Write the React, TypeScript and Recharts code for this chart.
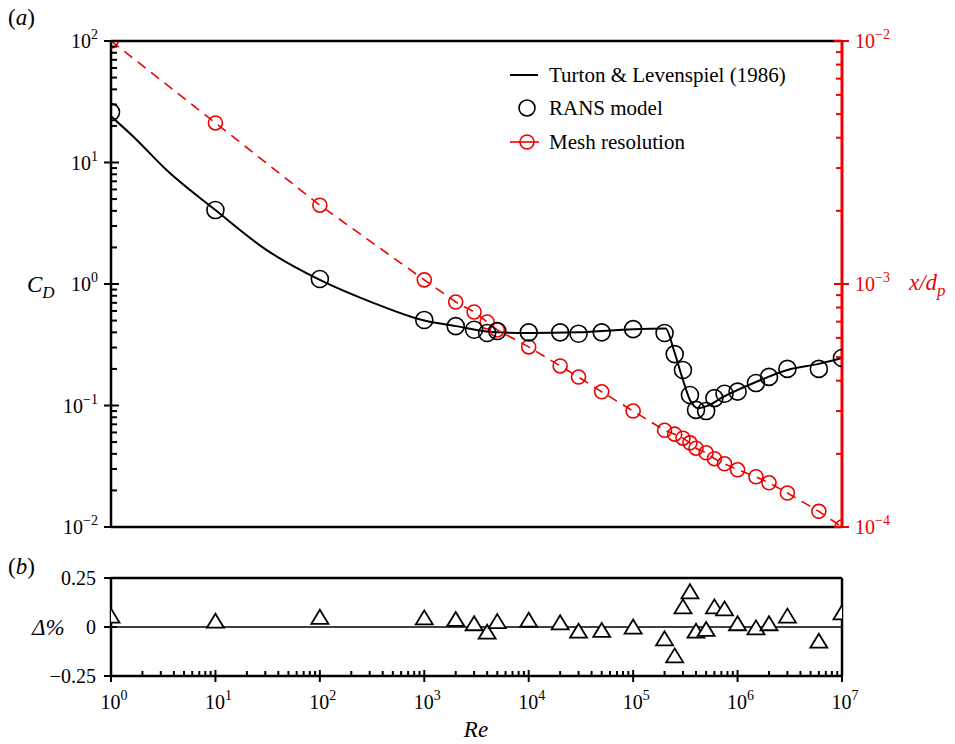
import {
  ComposedChart,
  Line,
  Scatter,
  XAxis,
  YAxis,
  ReferenceLine,
} from "recharts";

// Re values where the RANS runs / mesh resolution / deviations are plotted
const RE = [
  1, 10, 100, 1e3, 2e3, 3e3, 4e3, 5e3, 1e4, 2e4, 3e4, 5e4, 1e5, 2e5, 2.5e5,
  3e5, 3.5e5, 4e5, 5e5, 6e5, 7.5e5, 1e6, 1.5e6, 2e6, 3e6, 6e6, 1e7,
];
const RANS_CD = [
  26, 4.06, 1.1, 0.506, 0.45, 0.42, 0.395, 0.41, 0.4, 0.4, 0.39, 0.4, 0.425,
  0.395, 0.265, 0.196, 0.122, 0.092, 0.09, 0.115, 0.125, 0.13, 0.153, 0.172,
  0.2, 0.2, 0.246,
];
const MESH_XDP = [
  0.01, 0.0046, 0.00211, 0.00104, 0.000843, 0.000767, 0.000698, 0.000647,
  0.000551, 0.00046, 0.000414, 0.00036, 0.0003, 0.00025, 0.000241, 0.000232,
  0.000222, 0.000211, 0.000202, 0.000191, 0.000182, 0.000172, 0.000161,
  0.000152, 0.000138, 0.000116, 0.0001,
];
const DELTA = [
  0.053, 0.027, 0.047, 0.044, 0.036, 0.014, -0.029, 0.025, 0.032, 0.019,
  -0.024, -0.02, -0.003, -0.063, -0.15, 0.1, 0.177, -0.024, -0.015, 0.1, 0.09,
  0.014, -0.007, 0.014, 0.053, -0.075, 0.07,
];

// Turton & Levenspiel (1986) curve
const CURVE_RE = [
  1, 1.64, 3.4, 10, 31, 100, 324, 1e3, 2e3, 5e3, 1e4, 3e4, 1e5, 2.05e5,
  2.45e5, 3e5, 3.5e5, 4.2e5, 5.1e5, 7.2e5, 1.5e6, 3e6, 6e6, 1e7,
];
const CURVE_CD = [
  24, 16.3, 8.67, 4.06, 1.9, 1.08, 0.7, 0.5, 0.45, 0.4, 0.395, 0.4, 0.425,
  0.43, 0.286, 0.162, 0.111, 0.095, 0.099, 0.117, 0.156, 0.196, 0.22, 0.246,
];

const X_MAJOR = [1, 10, 100, 1e3, 1e4, 1e5, 1e6, 1e7];
const LEFT_MAJOR = [0.01, 0.1, 1, 10, 100];
const RIGHT_MAJOR = [1e-4, 1e-3, 1e-2];
const DELTA_TICKS = [-0.25, 0, 0.25];
const DELTA_LABELS = ["\u22120.25", "0", "0.25"];

const RED = "#ee0000";
const FONT = "'Liberation Serif', 'Times New Roman', serif";

function withMinors(majors: number[]) {
  const out: number[] = [];
  majors.forEach((m, i) => {
    out.push(m);
    if (i < majors.length - 1) for (let k = 2; k <= 9; k++) out.push(m * k);
  });
  return out;
}

const ransData = RE.map((re, i) => ({ re, y: RANS_CD[i] }));
const meshData = RE.map((re, i) => ({ re, y: MESH_XDP[i] }));
const deltaData = RE.map((re, i) => ({ re, y: DELTA[i] }));
const curveData = CURVE_RE.map((re, i) => ({ re, y: CURVE_CD[i] }));

function isMajor(v: number) {
  const e = Math.round(Math.log10(v));
  return Math.abs(v - Math.pow(10, e)) < 1e-6 * v;
}

function expLabel(v: number) {
  const e = Math.round(Math.log10(v));
  return e < 0 ? `\u2212${-e}` : `${e}`;
}

function LeftLogTick(props: any) {
  const { x, y, payload } = props;
  const v = payload.value;
  if (!isMajor(v)) {
    return <line x1={x} x2={x + 6} y1={y} y2={y} stroke="#000" strokeWidth={2} />;
  }
  return (
    <g>
      <line x1={x - 7} x2={x + 8} y1={y} y2={y} stroke="#000" strokeWidth={2} />
      <text x={x - 13} y={y + 7} textAnchor="end" fontSize={20} fontFamily={FONT} fill="#000">
        10
        <tspan dy={-9} fontSize={14}>
          {expLabel(v)}
        </tspan>
      </text>
    </g>
  );
}

function RightLogTick(props: any) {
  const { x, y, payload } = props;
  const v = payload.value;
  if (!isMajor(v)) {
    return <line x1={x - 6} x2={x} y1={y} y2={y} stroke={RED} strokeWidth={2} />;
  }
  return (
    <g>
      <line x1={x - 8} x2={x + 7} y1={y} y2={y} stroke={RED} strokeWidth={2} />
      <text x={x + 13} y={y + 7} textAnchor="start" fontSize={20} fontFamily={FONT} fill={RED}>
        10
        <tspan dy={-9} fontSize={14}>
          {expLabel(v)}
        </tspan>
      </text>
    </g>
  );
}

function BottomLogTick(props: any) {
  const { x, y, payload } = props;
  const v = payload.value;
  if (!isMajor(v)) {
    return <line x1={x} x2={x} y1={y} y2={y - 5} stroke="#000" strokeWidth={2} />;
  }
  return (
    <g>
      <line x1={x} x2={x} y1={y - 6} y2={y + 6} stroke="#000" strokeWidth={2} />
      <text x={x + 3} y={y + 33} textAnchor="middle" fontSize={20} fontFamily={FONT} fill="#000">
        10
        <tspan dy={-9} fontSize={14}>
          {expLabel(v)}
        </tspan>
      </text>
    </g>
  );
}

function DeltaTick(props: any) {
  const { x, y, payload, index } = props;
  return (
    <g>
      <line x1={x - 7} x2={x + 6} y1={y} y2={y} stroke="#000" strokeWidth={2} />
      <text x={x - 15} y={y + 7} textAnchor="end" fontSize={20} fontFamily={FONT} fill="#000">
        {DELTA_LABELS[index] ?? String(payload.value)}
      </text>
    </g>
  );
}

function OpenCircle(props: any) {
  const { cx, cy } = props;
  if (cx == null || cy == null) return null;
  return <circle cx={cx} cy={cy} r={8.5} fill="none" stroke="#000" strokeWidth={1.6} />;
}

function RedDot(props: any) {
  const { cx, cy, index } = props;
  if (cx == null || cy == null) return <g key={`md-${index}`} />;
  return (
    <circle key={`md-${index}`} cx={cx} cy={cy} r={7} fill="none" stroke={RED} strokeWidth={1.6} />
  );
}

function Triangle(props: any) {
  const { cx, cy } = props;
  if (cx == null || cy == null) return null;
  const d = `M${cx},${cy - 8} L${cx + 8.5},${cy + 6} L${cx - 8.5},${cy + 6} Z`;
  return <path d={d} fill="#fff" stroke="#000" strokeWidth={1.8} strokeLinejoin="miter" />;
}

export default function App() {
  return (
    <div
      style={{
        position: "absolute",
        left: 0,
        top: 0,
        width: 955,
        height: 744,
        background: "#fff",
        fontFamily: FONT,
      }}
    >
      {/* (a) C_D and mesh resolution */}
      <div style={{ position: "absolute", left: 0, top: 0 }}>
        <ComposedChart
          width={955}
          height={560}
          margin={{ top: 41, right: 0, bottom: 33, left: 0 }}
        >
          <XAxis
            dataKey="re"
            type="number"
            scale="log"
            domain={[1, 1e7]}
            allowDataOverflow
            hide
          />
          <YAxis
            yAxisId="left"
            dataKey="y"
            type="number"
            scale="log"
            domain={[0.01, 100]}
            allowDataOverflow
            width={111}
            ticks={withMinors(LEFT_MAJOR)}
            interval={0}
            tickSize={0}
            tickMargin={0}
            tickLine={false}
            axisLine={{ stroke: "#000", strokeWidth: 2.5 }}
            tick={<LeftLogTick />}
          />
          <YAxis
            yAxisId="right"
            orientation="right"
            dataKey="y"
            type="number"
            scale="log"
            domain={[1e-4, 1e-2]}
            allowDataOverflow
            width={113}
            ticks={withMinors(RIGHT_MAJOR)}
            interval={0}
            tickSize={0}
            tickMargin={0}
            tickLine={false}
            axisLine={{ stroke: RED, strokeWidth: 3 }}
            tick={<RightLogTick />}
          />
          <ReferenceLine yAxisId="left" y={100} stroke="#000" strokeWidth={2.5} />
          <ReferenceLine yAxisId="left" y={0.01} stroke="#000" strokeWidth={2.5} />
          <Line
            yAxisId="left"
            data={curveData}
            dataKey="y"
            type="monotone"
            stroke="#000"
            strokeWidth={2}
            dot={false}
            activeDot={false}
            isAnimationActive={false}
          />
          <Line
            yAxisId="right"
            data={meshData}
            dataKey="y"
            type="linear"
            stroke={RED}
            strokeWidth={1.6}
            strokeDasharray="10 7"
            dot={(p: any) => <RedDot {...p} />}
            activeDot={false}
            isAnimationActive={false}
          />
          <Scatter
            yAxisId="left"
            data={ransData}
            dataKey="y"
            shape={<OpenCircle />}
            isAnimationActive={false}
          />
        </ComposedChart>
      </div>

      {/* (b) deviation */}
      <div style={{ position: "absolute", left: 0, top: 560 }}>
        <ComposedChart
          width={955}
          height={184}
          margin={{ top: 18, right: 0, bottom: 0, left: 0 }}
        >
          <XAxis
            dataKey="re"
            type="number"
            scale="log"
            domain={[1, 1e7]}
            allowDataOverflow
            height={68}
            ticks={withMinors(X_MAJOR)}
            interval={0}
            tickSize={0}
            tickMargin={0}
            tickLine={false}
            axisLine={{ stroke: "#000", strokeWidth: 2.5 }}
            tick={<BottomLogTick />}
          />
          <YAxis
            yAxisId="d"
            dataKey="y"
            type="number"
            domain={[-0.25, 0.25]}
            allowDataOverflow
            width={111}
            ticks={DELTA_TICKS}
            interval={0}
            tickSize={0}
            tickMargin={0}
            tickLine={false}
            axisLine={{ stroke: "#000", strokeWidth: 2.5 }}
            tick={<DeltaTick />}
          />
          <YAxis
            yAxisId="dr"
            orientation="right"
            type="number"
            domain={[-0.25, 0.25]}
            width={113}
            tick={false}
            tickLine={false}
            axisLine={{ stroke: "#000", strokeWidth: 2.5 }}
          />
          <ReferenceLine yAxisId="d" y={0.25} stroke="#000" strokeWidth={2.5} />
          <ReferenceLine yAxisId="d" y={0} stroke="#000" strokeWidth={1.5} />
          <Scatter
            yAxisId="d"
            data={deltaData}
            dataKey="y"
            shape={<Triangle />}
            isAnimationActive={false}
          />
        </ComposedChart>
      </div>

      {/* titles, panel labels and legend */}
      <svg
        width={955}
        height={744}
        style={{ position: "absolute", left: 0, top: 0, pointerEvents: "none" }}
        fontFamily={FONT}
      >
        <text x={8} y={25} fontSize={23}>
          (<tspan fontStyle="italic">a</tspan>)
        </text>
        <text x={8} y={574} fontSize={23}>
          (<tspan fontStyle="italic">b</tspan>)
        </text>
        <text x={27} y={292} fontSize={23} fontStyle="italic">
          C
          <tspan dy={6} fontSize={17}>
            D
          </tspan>
        </text>
        <text x={909} y={290} fontSize={23} fontStyle="italic" fill={RED}>
          x/d
          <tspan dy={6} fontSize={17}>
            p
          </tspan>
        </text>
        <text x={32} y={635} fontSize={23} fontStyle="italic">
          {"\u0394%"}
        </text>
        <text x={476} y={737} fontSize={23} fontStyle="italic" textAnchor="middle">
          Re
        </text>

        <line x1={510} x2={538} y1={75} y2={75} stroke="#000" strokeWidth={2} />
        <text x={549} y={82} fontSize={21}>
          Turton &amp; Levenspiel (1986)
        </text>
        <circle cx={527} cy={108} r={8} fill="none" stroke="#000" strokeWidth={1.6} />
        <text x={549} y={115} fontSize={21}>
          RANS model
        </text>
        <line x1={510} x2={539} y1={142} y2={142} stroke={RED} strokeWidth={1.6} />
        <circle cx={527} cy={142} r={7} fill="none" stroke={RED} strokeWidth={1.6} />
        <text x={549} y={149} fontSize={21}>
          Mesh resolution
        </text>
      </svg>
    </div>
  );
}
